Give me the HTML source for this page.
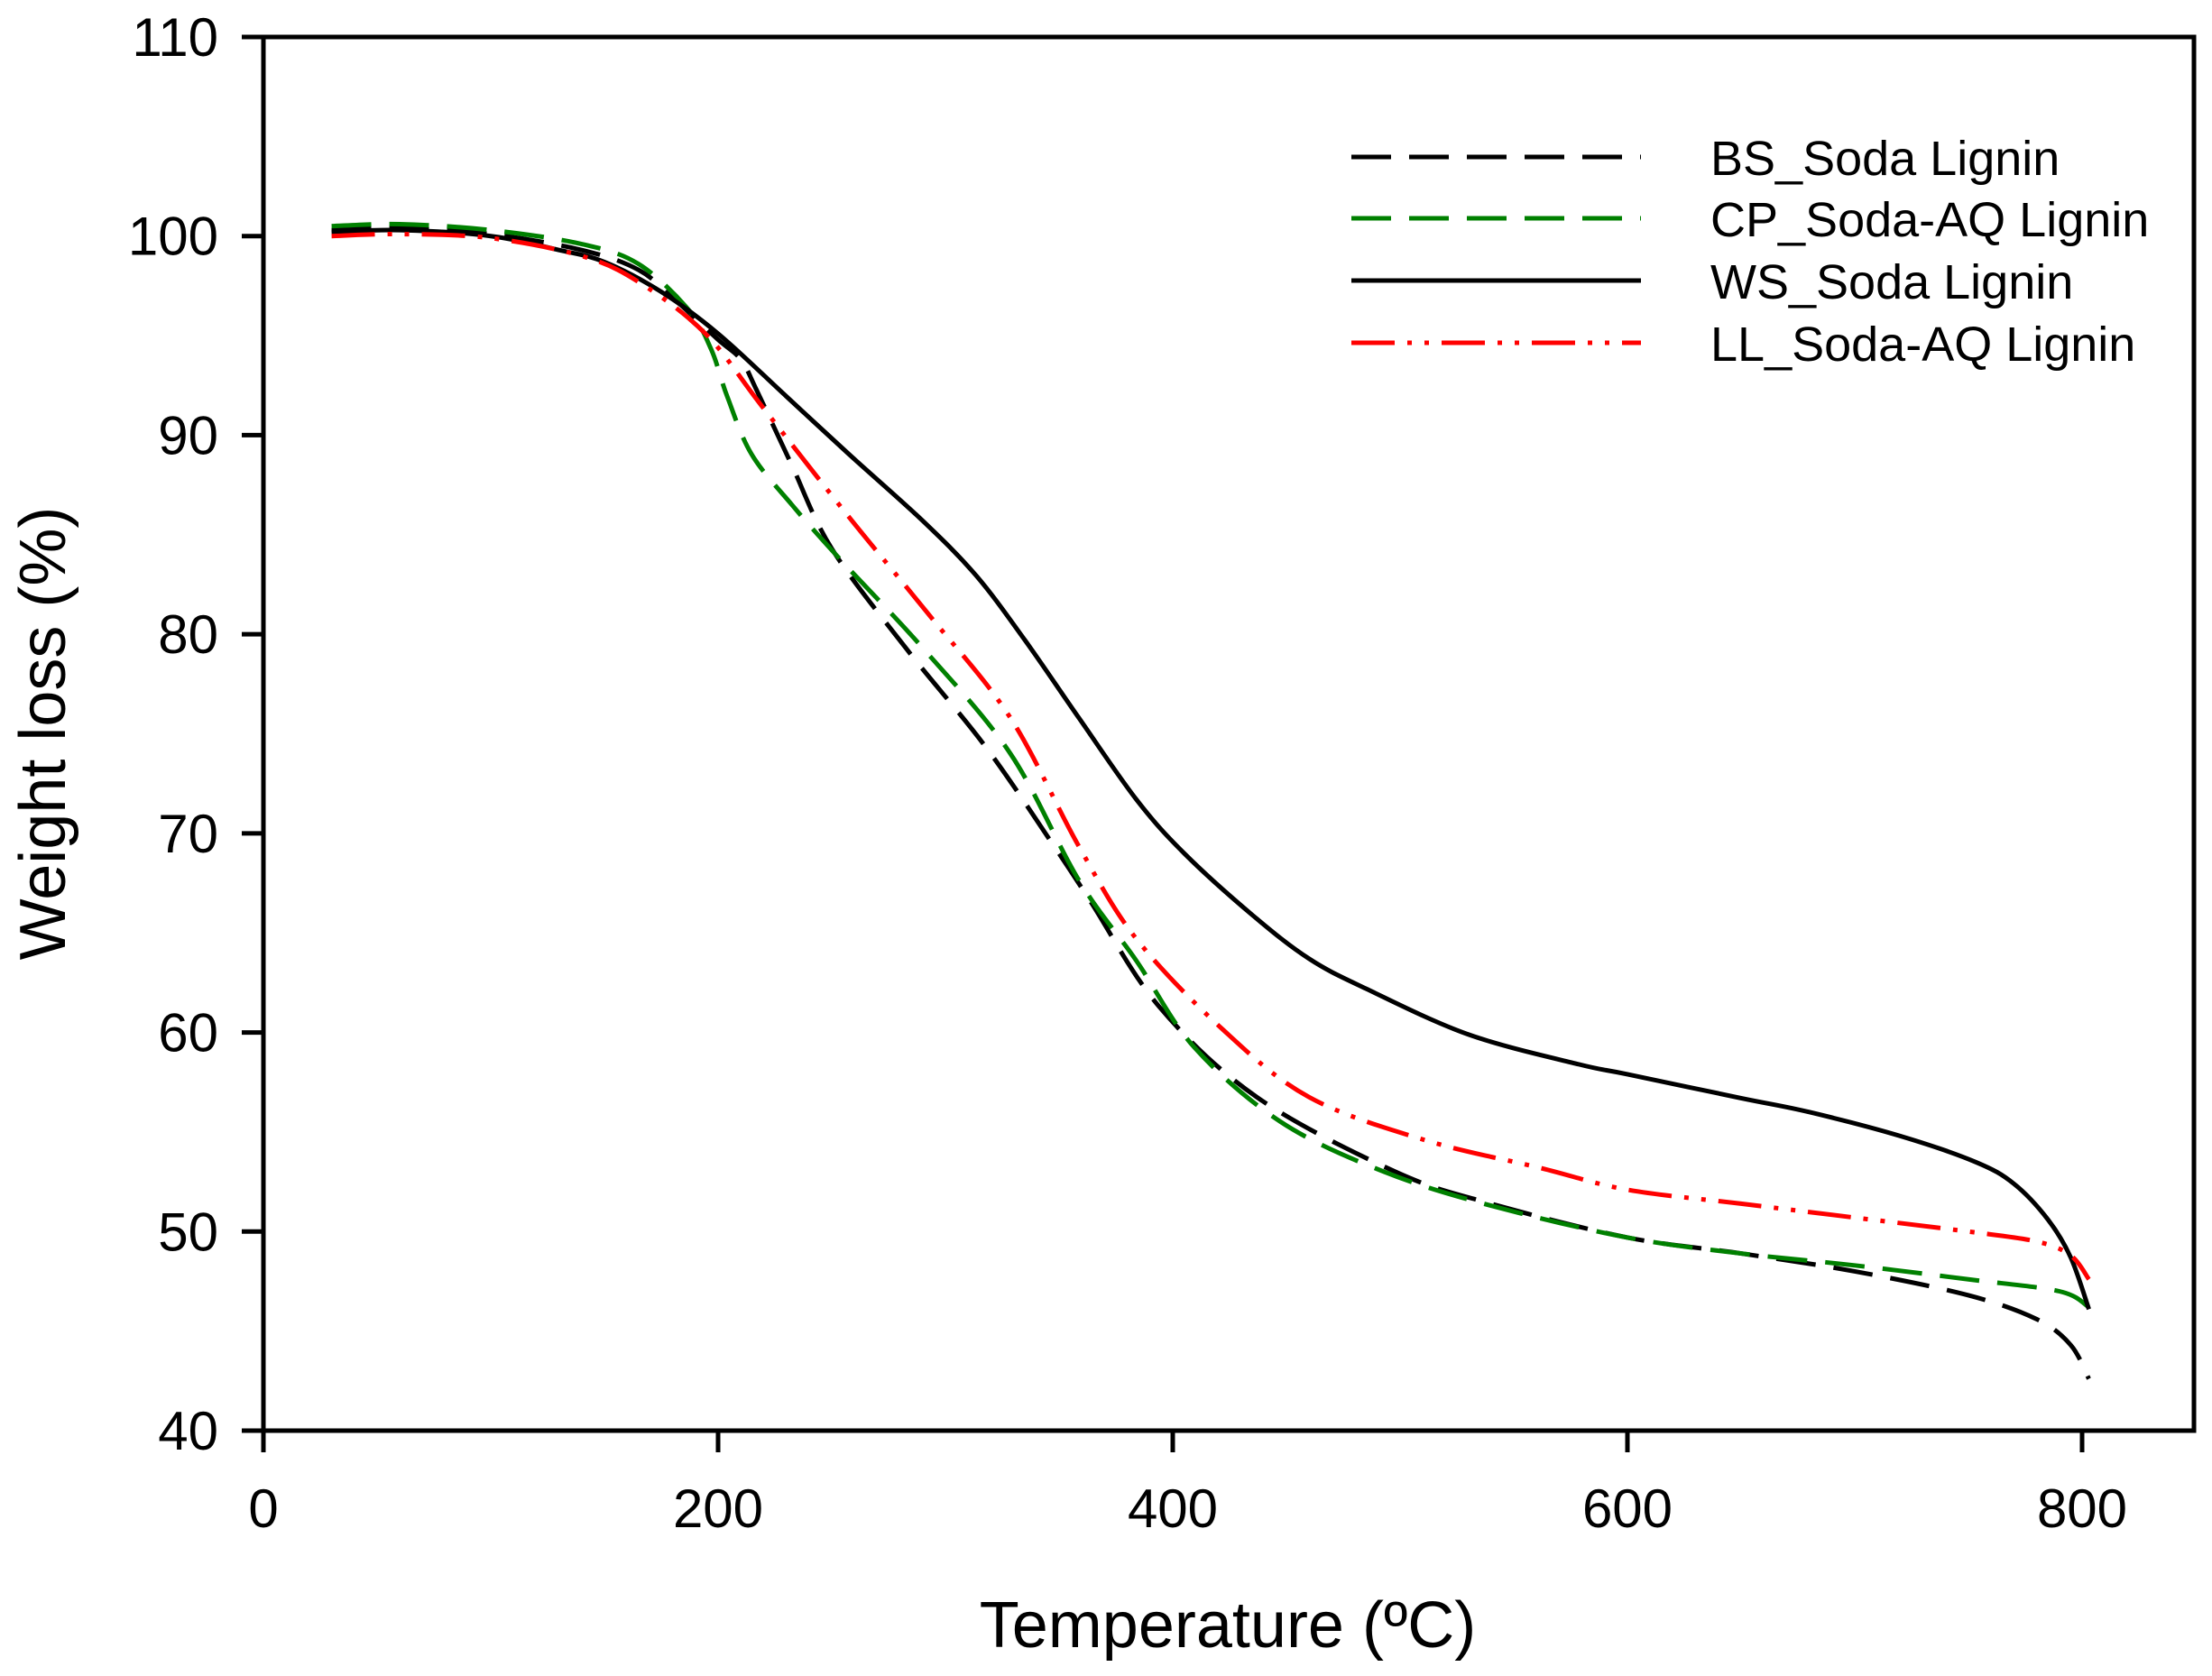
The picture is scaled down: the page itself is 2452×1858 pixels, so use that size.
<!DOCTYPE html>
<html><head><meta charset="utf-8"><style>
html,body{margin:0;padding:0;background:#fff;}
svg{display:block;font-family:"Liberation Sans",Arial,sans-serif;}
</style></head><body>
<svg id="chart" width="2452" height="1858" viewBox="0 0 2452 1858" xmlns="http://www.w3.org/2000/svg">
<rect width="2452" height="1858" fill="#fff"/>
<g id="axes"></g>
<g id="series"></g>
<g id="legend"></g>
<text x="0" y="0" font-size="72" text-anchor="middle" transform="translate(72,813) rotate(-90)">Weight loss (%)</text>
<text x="1361" y="1826" font-size="72" text-anchor="middle">Temperature (ºC)</text>
</svg>
<script>
const xTicks=[0,200,400,600,800];
const yTicks=[40,50,60,70,80,90,100,110];
const seriesNames=["BS_Soda Lignin","CP_Soda-AQ Lignin","WS_Soda Lignin","LL_Soda-AQ Lignin"];
const bsData=[[30,100.3],[60,100.4],[100,100.1],[140,99.3],[165,98.3],[182,96.7],[200,94.8],[210,93.8],[217,92.25],[232,88.6],[250,84.3],[283,79.25],[318,74.3],[349,69.15],[364,66.55],[394,61.3],[437,56.75],[498,53.0],[540,51.4],[600,49.7],[650,48.9],[700,48.0],[750,46.8],[780,45.6],[795,44.3],[803,42.6]];
const cpData=[[30,100.5],[60,100.6],[100,100.3],[140,99.6],[165,98.6],[187,96.3],[197,94.3],[204,91.95],[214.7,89.05],[232.5,86.5],[253,83.85],[290.5,79.25],[328.6,74.0],[358.7,67.65],[384,63.6],[409.5,59.25],[447.6,55.5],[493,53.0],[540,51.3],[600,49.7],[650,48.9],[700,48.3],[750,47.6],[790,47.0],[803,46.2]];
const wsData=[[30,100.2],[60,100.3],[100,100],[130,99.3],[150,98.7],[175,97.2],[200,95.1],[230,91.95],[257.5,89.05],[290,85.7],[313.5,82.95],[335,79.7],[358.7,75.8],[384,71.7],[405,69.0],[435,65.9],[460,63.7],[485,62.2],[530,59.9],[578.6,58.4],[600,57.9],[650,56.7],[680,56.0],[720,54.8],[753,53.5],[770,52.4],[785,50.6],[795,48.7],[803,46.1]];
const llData=[[30,100],[60,100.1],[100,99.9],[140,99],[165,97.7],[194.4,95.1],[220,91.35],[257.5,85.9],[293,80.95],[328.6,75.8],[358.7,69.35],[384,64.7],[422,60.15],[460,56.75],[510.7,54.6],[561.5,53.2],[600,52.1],[650,51.4],[700,50.7],[750,50.0],[780,49.5],[795,48.8],[803,47.6]];
const NS="http://www.w3.org/2000/svg";
const X0=292,X1=2432,Y0=1586,Y1=41;
function sx(v){return X0+(v-0)*(2308-292)/800;}
function sy(v){return Y0-(v-40)*(Y0-Y1)/70;}
function mk(tag,attrs,parent){const e=document.createElementNS(NS,tag);for(const k in attrs)e.setAttribute(k,attrs[k]);parent.appendChild(e);return e;}
const axes=document.getElementById('axes');
let fr=mk('path',{d:`M${X0},${Y1}H${X1}V${Y0}H${X0}Z`,fill:'none',stroke:'#000','stroke-width':5},axes);


xTicks.forEach(t=>{
  const l=mk('line',{x1:sx(t),x2:sx(t),y1:Y0,y2:Y0+24,stroke:'#000','stroke-width':5},axes);
  
  
  const tx=mk('text',{x:sx(t),y:1693,'font-size':60,'text-anchor':'middle'},axes);
  tx.textContent=t;
  
  
});
yTicks.forEach(t=>{
  const l=mk('line',{x1:X0-24,x2:X0,y1:sy(t),y2:sy(t),stroke:'#000','stroke-width':5},axes);
  
  
  const tx=mk('text',{x:242,y:sy(t)+21,'font-size':60,'text-anchor':'end'},axes);
  tx.textContent=t;
  
  
});
function smooth(data){
  const p=data.map(d=>[sx(d[0]),sy(d[1])]);
  let d=`M${p[0][0]},${p[0][1]}`;
  for(let i=0;i<p.length-1;i++){
    const a=p[i-1]||p[i],b=p[i],c=p[i+1],e=p[i+2]||c;
    d+=`C${b[0]+(c[0]-a[0])/6},${b[1]+(c[1]-a[1])/6} ${c[0]-(e[0]-b[0])/6},${c[1]-(e[1]-b[1])/6} ${c[0]},${c[1]}`;
  }
  return d;
}
const styles=[
 {data:bsData,color:'#000',dash:'44 20',name:'bs-soda-lignin-line'},
 {data:cpData,color:'#008000',dash:'44 20',name:'cp-soda-aq-lignin-line'},
 {data:wsData,color:'#000',dash:'none',name:'ws-soda-lignin-line'},
 {data:llData,color:'#ff0000',dash:'48 14 5 14 5 14',name:'ll-soda-aq-lignin-line'}
];
const sg=document.getElementById('series'),lg=document.getElementById('legend');
const legY=[174,242,311,380];
styles.forEach((s,i)=>{
  const p=mk('path',{d:smooth(s.data),fill:'none',stroke:s.color,'stroke-width':5,'stroke-dasharray':s.dash},sg);
  
  
  const l=mk('line',{x1:1498,x2:1819,y1:legY[i],y2:legY[i],stroke:s.color,'stroke-width':5,'stroke-dasharray':s.dash},lg);
  
  
  const t=mk('text',{x:1896,y:legY[i]+20,'font-size':54},lg);
  t.textContent=seriesNames[i];
  
  
});
</script>
</body></html>
